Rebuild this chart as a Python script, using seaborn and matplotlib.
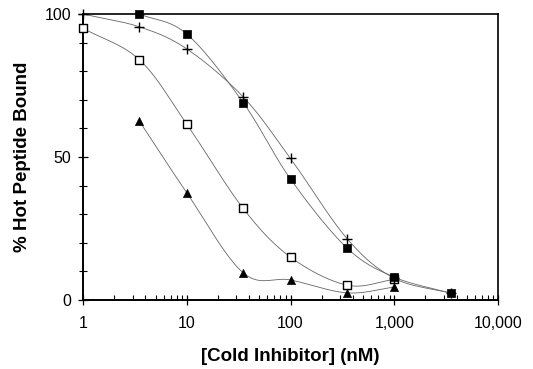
import numpy as np
import pandas as pd
import matplotlib
matplotlib.use("Agg")
import matplotlib.pyplot as plt
import matplotlib.ticker as mticker
import seaborn as sns

# Inhibitor concentrations (nM) and % hot peptide bound for each inhibitor
conc_filled_sq = [3.5, 10, 35, 100, 350, 1000, 3500]
bound_filled_sq = [100, 93, 69, 42.3, 18.2, 8, 2.4]

conc_plus = [1, 3.5, 10, 35, 100, 350, 1000, 3500]
bound_plus = [100, 95.5, 87.8, 71, 49.5, 21.5, 7.6, 2.4]

conc_open_sq = [1, 3.5, 10, 35, 100, 350, 1000]
bound_open_sq = [95, 84, 61.5, 32, 15, 5.2, 7.2]

conc_tri = [3.5, 10, 35, 100, 350, 1000]
bound_tri = [62.5, 37.5, 9.5, 7, 2.5, 4.5]

x_ticks = [1, 10, 100, 1000, 10000]
x_tick_labels = ["1", "10", "100", "1,000", "10,000"]
y_ticks = [0, 50, 100]


def smooth(xs, ys, n=40):
    """Catmull-Rom spline through the points, in log10(x) space."""
    lx = np.log10(np.asarray(xs, float))
    y = np.asarray(ys, float)
    P = np.column_stack([lx, y])
    P = np.vstack([P[0] - (P[1] - P[0]), P, P[-1] + (P[-1] - P[-2])])
    out = []
    for i in range(1, len(P) - 2):
        p0, p1, p2, p3 = P[i - 1], P[i], P[i + 1], P[i + 2]
        t = np.linspace(0, 1, n, endpoint=False)[:, None]
        seg = 0.5 * ((2 * p1) + (-p0 + p2) * t + (2 * p0 - 5 * p1 + 4 * p2 - p3) * t ** 2
                     + (-p0 + 3 * p1 - 3 * p2 + p3) * t ** 3)
        out.append(seg)
    out.append(P[-2][None, :])
    arr = np.vstack(out)
    return 10 ** arr[:, 0], arr[:, 1]


sns.set_theme(style="ticks")
plt.rcParams["font.family"] = ["Liberation Sans", "DejaVu Sans"]

fig = plt.figure(figsize=(5.33, 3.69), dpi=100)
ax = fig.add_axes([83 / 533, 1 - 300 / 369, (498 - 83) / 533, (300 - 14) / 369])

series = [
    (conc_filled_sq, bound_filled_sq, dict(marker="s", s=34, color="black", edgecolor="black", linewidth=0.5)),
    (conc_plus, bound_plus, dict(marker="+", s=55, color="black", linewidth=1.0)),
    (conc_open_sq, bound_open_sq, dict(marker="s", s=34, color="white", edgecolor="black", linewidth=1.0)),
    (conc_tri, bound_tri, dict(marker="^", s=34, color="black", edgecolor="black", linewidth=0.5)),
]

for xs, ys, mk in series:
    sx, sy = smooth(xs, ys)
    curve = pd.DataFrame({"x": sx, "y": sy})
    sns.lineplot(data=curve, x="x", y="y", sort=False, ax=ax, color="#666666",
                 linewidth=0.6, zorder=2)

for xs, ys, mk in reversed(series):
    pts = pd.DataFrame({"x": xs, "y": ys})
    sns.scatterplot(data=pts, x="x", y="y", ax=ax, zorder=3, clip_on=False, **mk)

ax.set_xscale("log")
ax.set_xlim(1, 10000)
ax.set_ylim(0, 100)

ax.xaxis.set_major_locator(mticker.FixedLocator(x_ticks))
ax.xaxis.set_major_formatter(mticker.FixedFormatter(x_tick_labels))
ax.xaxis.set_minor_locator(mticker.LogLocator(base=10, subs=np.arange(2, 10)))
ax.xaxis.set_minor_formatter(mticker.NullFormatter())
ax.set_yticks(y_ticks)
ax.yaxis.set_minor_locator(mticker.MultipleLocator(10))

for side in ["left", "bottom"]:
    ax.spines[side].set_linewidth(1.4)
    ax.spines[side].set_color("black")
for side in ["top", "right"]:
    ax.spines[side].set_visible(True)
    ax.spines[side].set_linewidth(1.2)
    ax.spines[side].set_color("black")

ax.tick_params(axis="both", which="major", direction="inout", length=7, width=0.9,
               labelsize=11.5, colors="black")
ax.tick_params(axis="x", which="major", pad=8)
ax.tick_params(axis="y", which="major", pad=5)
ax.tick_params(axis="x", which="minor", direction="in", length=3.5, width=0.8, colors="black")
ax.tick_params(axis="y", which="minor", direction="inout", length=6, width=0.8, colors="black")

ax.set_xlabel("[Cold Inhibitor] (nM)", fontsize=13.5, fontweight="bold", labelpad=12,
              color="black")
ax.set_ylabel("% Hot Peptide Bound", fontsize=13.5, fontweight="bold", labelpad=10,
              color="black")

fig.savefig("out.png", dpi=100, facecolor="white")
